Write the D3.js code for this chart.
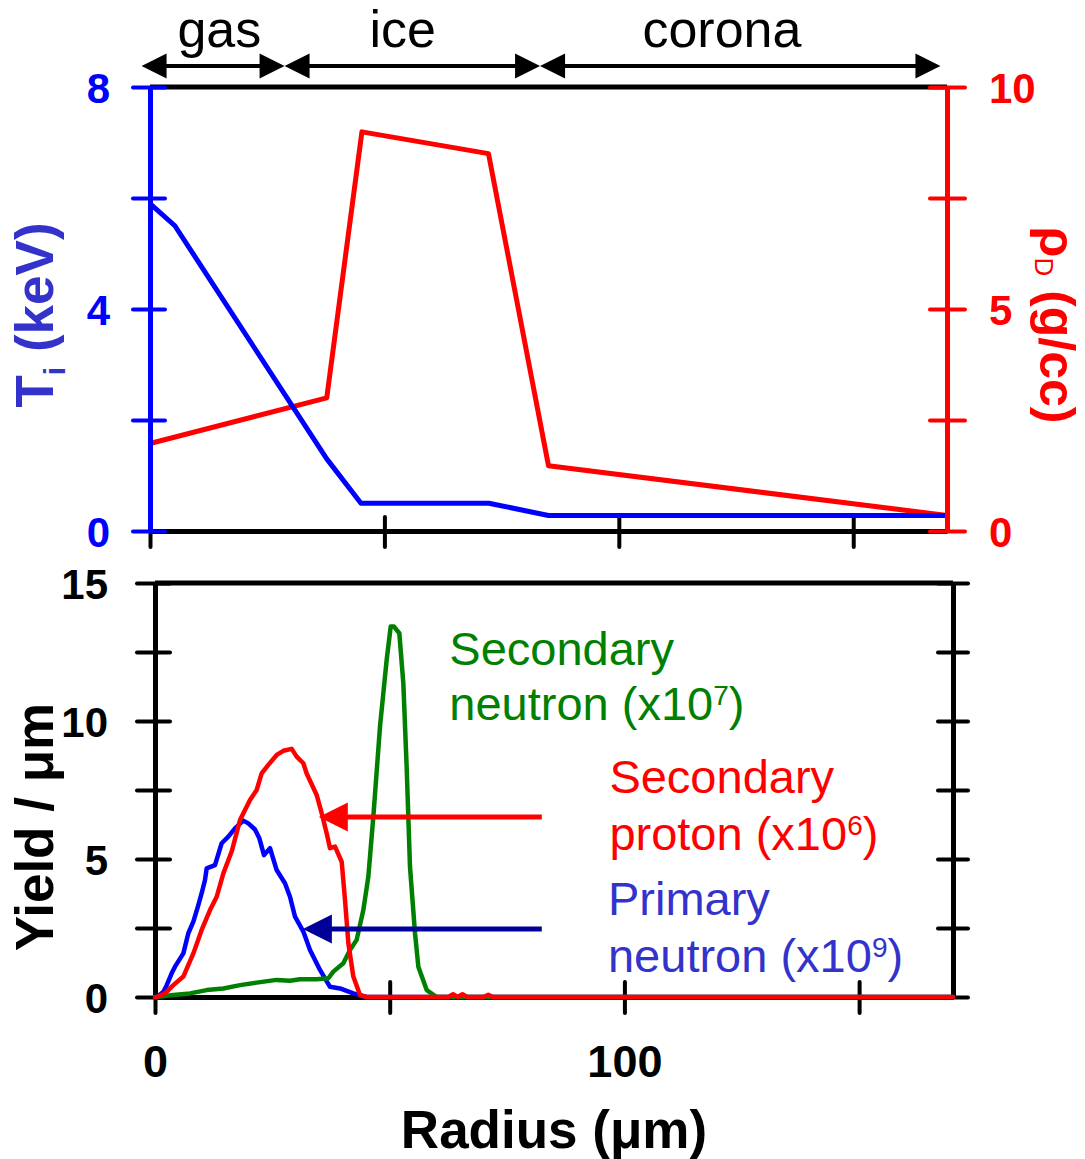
<!DOCTYPE html>
<html><head><meta charset="utf-8">
<script src="https://cdn.jsdelivr.net/npm/d3@7"></script>
<style>body{margin:0;background:#fff}svg{display:block}</style>
</head><body>
<svg id="chart" width="1085" height="1159"></svg>
<script>
// ---------- DATA ----------
// Top panel: ion temperature (keV) and density (g/cc) vs radius (um)
const tempRadius = [0, 5.3, 37.7, 45.0, 72.3, 85.0, 170];
const tempKeV    = [5.9, 5.5, 1.3, 0.5, 0.5, 0.28, 0.28];
const densRadius = [0, 37.7, 45.2, 72.2, 85.0, 170];
const densGcc    = [1.97, 3.0, 8.99, 8.5, 1.47, 0.35];

// Bottom panel: yield per um vs radius (um)
const primaryNeutron = [[0,0],[0.4,0],[1.8,0.19],[2.5,0.43],[3.55,0.86],[4.26,1.10],[6.04,1.58],[7.10,2.31],[8.17,2.73],[9.23,3.33],[9.94,3.76],[10.65,4.24],[11.01,4.66],[12.78,4.78],[14.20,5.57],[15.62,5.81],[17.04,6.11],[18.82,6.39],[19.88,6.29],[21.30,6.07],[22.23,5.75],[23.22,5.14],[24.50,5.39],[25.92,4.60],[27.69,4.12],[28.76,3.63],[29.83,2.91],[31.60,2.37],[33.02,1.70],[35.15,0.98],[37.28,0.37],[39.41,0.31],[42.25,0.13],[45.09,0],[170,0]];
const secondaryProton = [[0,0],[0.4,0],[2.13,0.13],[3.91,0.43],[6.04,0.74],[8.17,1.58],[9.94,2.43],[11.72,3.15],[13.14,3.63],[14.56,4.48],[16.33,5.27],[18.11,6.41],[20.24,7.14],[21.66,7.50],[22.72,8.10],[24.14,8.41],[25.92,8.77],[27.34,8.92],[29.12,8.99],[30.18,8.71],[31.60,8.47],[32.31,8.10],[34.44,7.32],[35.51,6.66],[36.57,5.93],[37.28,5.39],[38.35,5.45],[39.77,4.90],[40.48,3.51],[41.19,1.95],[42.25,0.74],[43.67,0.07],[45.09,0],[62.5,0],[63.5,0.1],[64.5,0],[65.5,0.1],[66.5,0],[70,0],[71,0.08],[72,0],[170,0]];
const secondaryNeutron = [[0,0],[0.4,0],[3.91,0.07],[7.46,0.13],[11.01,0.25],[14.56,0.31],[18.11,0.43],[21.66,0.52],[25.92,0.62],[28.76,0.59],[30.89,0.64],[34.44,0.64],[36.93,0.68],[37.99,0.92],[40.12,1.22],[41.54,1.70],[42.96,2.07],[44.38,3.15],[45.45,4.36],[46.51,6.53],[47.93,9.79],[49.35,12.21],[50.21,13.42],[50.92,13.42],[52.05,13.18],[52.90,11.37],[53.61,8.34],[54.32,4.72],[55.39,2.31],[56.10,1.10],[57.88,0.25],[60.01,0],[170,0]];

// Ticks
const tempTicks = [0, 2, 4, 6, 8];
const tempLabels = [0, 4, 8];
const densTicks = [0, 2.5, 5, 7.5, 10];
const densLabels = [0, 5, 10];
const radiusTicks = [0, 50, 100, 150];
const radiusLabels = [0, 100];
const yieldTicks = [0, 2.5, 5, 7.5, 10, 12.5, 15];
const yieldLabels = [0, 5, 10, 15];

// Region annotation (radius, um)
const regionNames = ['gas', 'ice', 'corona'];
const regionBounds = [-1.8, 28.7, 83.2, 168.6];
const regionLabelX = [14.8, 53.9, 122.0];

// Curve labels (radius, yield)
const labelLines = [
  ['Secondary', 'neutron (x10', '7', ')'],
  ['Secondary', 'proton (x10', '6', ')'],
  ['Primary', 'neutron (x10', '9', ')']
];
const labelX = [62.7, 96.8, 96.5];
const labelY1 = [12.03, 7.38, 2.97];
const labelY2 = [10.04, 5.33, 0.92];
const labelColor = ['#008000', '#ff0000', '#3333cc'];

// Pointer arrows (radius, yield)
const arrowY = [6.52, 2.46];
const arrowTip = [34.9, 31.5];
const arrowTail = [82.4, 82.4];
const arrowColor = ['#ff0000', '#000099'];

// ---------- DRAW ----------
const FONT = "'Liberation Sans', Arial, Helvetica, sans-serif";
const svg = d3.select('#chart');
svg.append('rect').attr('width',1085).attr('height',1159).attr('fill','#fff');

const xTop = d3.scaleLinear().domain([0,170]).range([150,947]);
const yT = d3.scaleLinear().domain([0,8]).range([531,87]);
const yD = d3.scaleLinear().domain([0,10]).range([531,87]);
const xBot = d3.scaleLinear().domain([0,170]).range([155,953]);
const yY = d3.scaleLinear().domain([0,15]).range([997,583]);

function styleAxis(g, color, fontSize, x1, x2, y1, y2) {
  g.attr('font-family', FONT).attr('font-weight', 'bold').attr('font-size', fontSize);
  g.select('.domain').attr('stroke', color).attr('stroke-width', 5);
  g.selectAll('.tick line').remove();
  g.selectAll('.tick').append('line')
    .attr('x1', x1).attr('x2', x2).attr('y1', y1).attr('y2', y2)
    .attr('stroke', color).attr('stroke-width', 4).attr('stroke-linecap','round');
  g.selectAll('.tick text').attr('fill', color);
}
const fmt = labels => d => labels.includes(d) ? String(d) : '';

// ===== Top panel =====
svg.append('line').attr('x1', xTop(0)).attr('x2', xTop(170)).attr('y1', yT(8)).attr('y2', yT(8))
  .attr('stroke', '#000').attr('stroke-width', 5);
const gxTop = svg.append('g').attr('transform', `translate(0,${yT(0)})`)
  .call(d3.axisBottom(xTop).tickValues(radiusTicks).tickSize(0).tickSizeOuter(0).tickFormat(''));
styleAxis(gxTop, '#000', 40, 0, 0, -14, 16);

const lineTop = (xs, ys, ysc) => d3.line().x((d,i) => xTop(xs[i])).y((d,i) => ysc(ys[i]))(xs);
svg.append('path').attr('d', lineTop(densRadius, densGcc, yD))
  .attr('fill','none').attr('stroke','#ff0000').attr('stroke-width',5).attr('stroke-linejoin','round');
svg.append('path').attr('d', lineTop(tempRadius, tempKeV, yT))
  .attr('fill','none').attr('stroke','#0000ff').attr('stroke-width',5).attr('stroke-linejoin','round');

const gyT = svg.append('g').attr('transform', `translate(${xTop(0)},0)`)
  .call(d3.axisLeft(yT).tickValues(tempTicks).tickSize(0).tickSizeOuter(0).tickPadding(40).tickFormat(fmt(tempLabels)));
styleAxis(gyT, '#0000ff', 42, -17, 15, 0, 0);
gyT.selectAll('.tick text').attr('dy', '0.38em');

const gyD = svg.append('g').attr('transform', `translate(${xTop(170)},0)`)
  .call(d3.axisRight(yD).tickValues(densTicks).tickSize(0).tickSizeOuter(0).tickPadding(42).tickFormat(fmt(densLabels)));
styleAxis(gyD, '#ff0000', 42, -17, 18, 0, 0);
gyD.selectAll('.tick text').attr('dy', '0.38em');

const tTitle = svg.append('text').attr('transform', `translate(53,${(yT(0)+yT(8))/2 + 6}) rotate(-90)`)
  .attr('text-anchor','middle').attr('font-family',FONT).attr('font-weight','bold')
  .attr('font-size',53).attr('fill','#3333cc');
tTitle.append('tspan').text('T');
tTitle.append('tspan').attr('font-size',30).attr('dy',12).text('i');
tTitle.append('tspan').attr('dy',-12).text(' (keV)');

const dTitle = svg.append('text').attr('transform', `translate(1040,${(yD(0)+yD(10))/2 + 16}) rotate(90)`)
  .attr('text-anchor','middle').attr('font-family',FONT).attr('font-weight','bold')
  .attr('font-size',50).attr('fill','#ff0000');
dTitle.append('tspan').text('\u03C1');
dTitle.append('tspan').attr('font-size',26).attr('font-weight','normal').attr('dy',5).text('D');
dTitle.append('tspan').attr('dy',-5).text(' (g/cc)');

const arrowYTop = 66, headL = 25, headH = 12.5;
regionNames.forEach((name, i) => {
  const a = xTop(regionBounds[i]), b = xTop(regionBounds[i+1]);
  svg.append('line').attr('x1', a + headL - 2).attr('x2', b - headL + 2)
    .attr('y1', arrowYTop).attr('y2', arrowYTop).attr('stroke','#000').attr('stroke-width',4);
  svg.append('path').attr('d', `M${a},${arrowYTop}L${a+headL},${arrowYTop-headH}L${a+headL},${arrowYTop+headH}Z`).attr('fill','#000');
  svg.append('path').attr('d', `M${b},${arrowYTop}L${b-headL},${arrowYTop-headH}L${b-headL},${arrowYTop+headH}Z`).attr('fill','#000');
  svg.append('text').attr('x', xTop(regionLabelX[i])).attr('y', 47)
    .attr('text-anchor','middle').attr('font-family',FONT).attr('font-size',52).attr('fill','#000').text(name);
});

// ===== Bottom panel =====
svg.append('line').attr('x1', xBot(0)).attr('x2', xBot(170)).attr('y1', yY(15)).attr('y2', yY(15))
  .attr('stroke','#000').attr('stroke-width',5);
const gyY = svg.append('g').attr('transform', `translate(${xBot(0)},0)`)
  .call(d3.axisLeft(yY).tickValues(yieldTicks).tickSize(0).tickSizeOuter(0).tickPadding(47).tickFormat(fmt(yieldLabels)));
styleAxis(gyY, '#000', 42, -18, 15, 0, 0);
gyY.selectAll('.tick text').attr('dy', '0.36em');
const gyY2 = svg.append('g').attr('transform', `translate(${xBot(170)},0)`)
  .call(d3.axisRight(yY).tickValues(yieldTicks).tickSize(0).tickSizeOuter(0).tickFormat(''));
styleAxis(gyY2, '#000', 40, -15, 15, 0, 0);
const gxB = svg.append('g').attr('transform', `translate(0,${yY(0)})`)
  .call(d3.axisBottom(xBot).tickValues(radiusTicks).tickSize(0).tickSizeOuter(0).tickPadding(48).tickFormat(fmt(radiusLabels)));
styleAxis(gxB, '#000', 45, 0, 0, -15, 16);

const lineBot = d3.line().x(d => xBot(d[0])).y(d => yY(d[1]));
[[primaryNeutron,'#0000ff'],[secondaryNeutron,'#008000'],[secondaryProton,'#ff0000']].forEach(([data,c]) => {
  svg.append('path').attr('d', lineBot(data)).attr('fill','none').attr('stroke',c)
    .attr('stroke-width',4.5).attr('stroke-linejoin','round').attr('stroke-linecap','round');
});

arrowY.forEach((yv, i) => {
  const tip = xBot(arrowTip[i]), tail = xBot(arrowTail[i]), y = yY(yv);
  const L = 29, Hh = 14.5;
  svg.append('line').attr('x1', tip + L - 2).attr('x2', tail).attr('y1', y).attr('y2', y)
    .attr('stroke', arrowColor[i]).attr('stroke-width', 5);
  svg.append('path').attr('d', `M${tip},${y}L${tip+L},${y-Hh}L${tip+L},${y+Hh}Z`).attr('fill', arrowColor[i]);
});

labelLines.forEach((ln, i) => {
  const g = svg.append('g').attr('font-family', FONT).attr('font-size', 47).attr('fill', labelColor[i]);
  g.append('text').attr('x', xBot(labelX[i])).attr('y', yY(labelY1[i])).text(ln[0]);
  const t = g.append('text').attr('x', xBot(labelX[i])).attr('y', yY(labelY2[i]));
  t.append('tspan').text(ln[1]);
  t.append('tspan').attr('font-size', 28).attr('dy', -15).text(ln[2]);
  t.append('tspan').attr('dy', 15).text(ln[3]);
});

svg.append('text').attr('x', xBot(85)).attr('y', 1148).attr('text-anchor','middle')
  .attr('font-family',FONT).attr('font-weight','bold').attr('font-size',53).attr('fill','#000')
  .text('Radius (\u03BCm)');
svg.append('text').attr('transform', `translate(53,827) rotate(-90)`).attr('text-anchor','middle')
  .attr('font-family',FONT).attr('font-weight','bold').attr('font-size',53).attr('fill','#000')
  .text('Yield / \u03BCm');
</script>
</body></html>
